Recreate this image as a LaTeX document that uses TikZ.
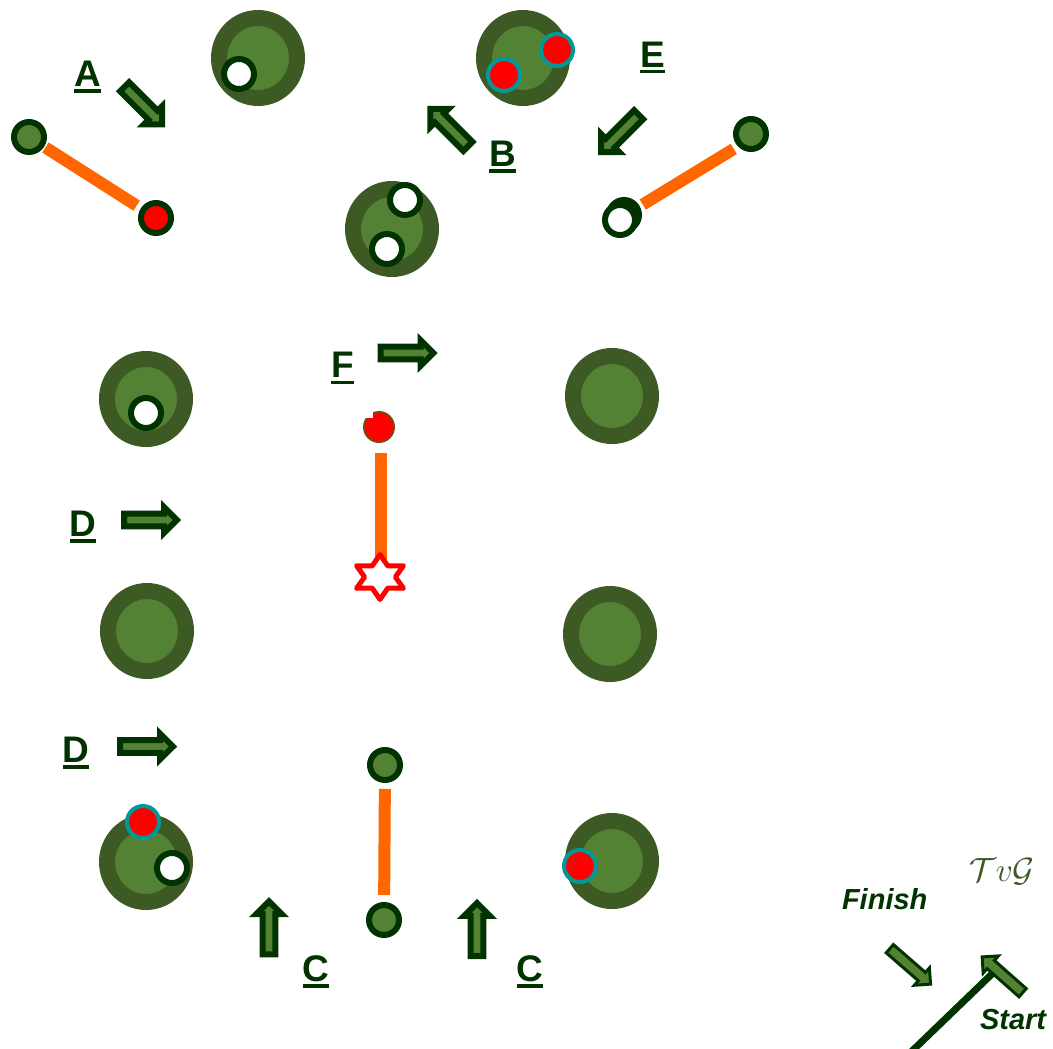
\documentclass[tikz,border=0pt]{standalone}
\usepackage{fontspec}
\setmainfont{Liberation Sans}
\usetikzlibrary{%
  shapes.geometric
 ,shapes.arrows
 ,backgrounds
}
\definecolor{darkgr}{HTML}{003300}
\definecolor{poleout}{HTML}{3D5A24}
\definecolor{polein}{HTML}{548235}
\definecolor{tealring}{HTML}{009999}
\definecolor{orangebar}{HTML}{FF6600}
\definecolor{brownring}{HTML}{7A4A14}
\tikzstyle{dia}=[x=1pt,y=-1pt,every node/.style={inner sep=0pt,outer sep=0pt}]
\tikzstyle{pole}=[ellipse,draw=poleout,fill=polein,line width=16pt,minimum width=78pt,minimum height=80pt]
\tikzstyle{ball}=[circle,draw=darkgr,line width=6pt,minimum size=30pt]
\tikzstyle{gball}=[ball,fill=polein]
\tikzstyle{wball}=[ball,fill=white]
\tikzstyle{rball}=[ball,fill=red]
\tikzstyle{tball}=[ball,draw=tealring,line width=4pt,minimum size=32pt,fill=red]
\tikzstyle{link}=[draw=orangebar,line width=12pt]
\tikzstyle{dir}=[single arrow,draw=darkgr,fill=polein,line width=6pt,anchor=tail,inner ysep=3.4pt,
  minimum height=53pt,minimum width=22.5pt,single arrow head extend=6.4pt]
\tikzstyle{walk}=[dir,line width=3pt,inner ysep=3.9pt,minimum height=54pt,minimum width=23pt,single arrow head extend=6pt]
\tikzstyle{let}=[anchor=base,text=darkgr,font=\bfseries\fontsize{37}{37}\selectfont]
\tikzstyle{word}=[anchor=base west,text=darkgr,font=\bfseries\itshape\fontsize{29}{29}\selectfont]
\newcommand{\ulet}[1]{\vtop{\hbox{#1}\kern3pt\hrule height 3.5pt}}

\begin{document}
\begin{tikzpicture}[dia]
  \useasboundingbox (0,0) rectangle (1053,1049);
% poles
  \node[pole] (p_a) at (258,58)  {};
  \node[pole] (p_b) at (523,58)  {};
  \node[pole] (p_c) at (392,229) {};
  \node[pole] (p_d) at (146,399) {};
  \node[pole] (p_e) at (612,396) {};
  \node[pole] (p_f) at (147,631) {};
  \node[pole] (p_g) at (610,634) {};
  \node[pole] (p_h) at (146,862) {};
  \node[pole] (p_i) at (612,861) {};
% balls
  \node[wball] (w_a) at (239,74)  {};
  \node[tball] (t_a) at (557,50)  {};
  \node[tball] (t_b) at (504,75)  {};
  \node[wball] (w_b) at (405,200) {};
  \node[wball] (w_c) at (387,249) {};
  \node[wball] (w_d) at (146,413) {};
  \node[tball] (t_c) at (143,822) {};
  \node[wball] (w_e) at (172,868) {};
  \node[tball] (t_d) at (580,866) {};
  \node[gball] (g_a) at (29,137)  {};
  \node[rball] (r_a) at (156,218) {};
  \node[gball] (g_b) at (751,134) {};
  \node[ball,fill=darkgr] (k_a) at (624,215) {};
  \node[wball] (w_f) at (620,220) {};
  \node[gball] (g_c) at (385,765) {};
  \node[gball] (g_d) at (384,920) {};
  \node[circle,draw=brownring,fill=red,line width=2pt,minimum size=30pt] (r_b) at (379,427) {};
  \fill[white] (364,410) rectangle (373,418);
  \node[star,star points=6,star point ratio=1.75,draw=red,fill=white,line width=5pt,
    line join=round,minimum size=45pt,xscale=1.2] (s_a) at (380,577) {};
% orange bars
  \begin{scope}[on background layer]
    \path (g_a) edge[link,shorten <=4.5pt,shorten >=8pt] (r_a);
    \path ([shift={(-1,5)}]g_b.center) edge[link,shorten <=19pt,shorten >=22pt] ([shift={(4,-4)}]w_f.center);
    \path ([xshift=2pt]r_b.south) edge[link,shorten <=11pt] ([xshift=1pt]s_a.center);
    \path (g_c) edge[link,shorten <=9pt,shorten >=10pt] (g_d);
  \end{scope}
% arrows
  \node[dir,rotate=-45] (a_a) at (124.6,86.8)  {};
  \node[dir,rotate=135] (a_b) at (467.9,146.4) {};
  \node[dir,rotate=225] (a_e) at (638.7,114.7) {};
  \node[dir]            (a_f) at (380.5,353)   {};
  \node[dir]            (a_d) at (124,520)     {};
  \node[dir]            (a_g) at (120,746.5)   {};
  \node[dir,rotate=90]  (a_c) at (269,954.3)   {};
  \node[dir,rotate=90]  (a_h) at (477,956)     {};
% letters
  \node[let] (l_a) at (87.5,86.5)  {\ulet{A}};
  \node[let] (l_b) at (502.5,166) {\ulet{B}};
  \node[let] (l_e) at (652.5,67) {\ulet{E}};
  \node[let] (l_f) at (342.5,377.5) {\ulet{F}};
  \node[let] (l_d) at (83,536)   {\ulet{D}};
  \node[let] (l_g) at (76,762)   {\ulet{D}};
  \node[let] (l_c) at (316,981)  {\ulet{C}};
  \node[let] (l_h) at (530,981)  {\ulet{C}};
% start and finish
  \coordinate (c_a) at (911,1052);
  \coordinate (c_b) at (993,973);
  \draw[darkgr,line width=7pt] (c_a) -- (c_b);
  \node[walk,rotate=-41]   (a_s) at (889.8,948.7)  {};
  \node[walk,rotate=138.5] (a_t) at (1022.6,992.7) {};
  \node[word] (t_f) at (842,909.5)  {Finish};
  \node[word] (t_s) at (980,1029.5) {Start};
  \node[anchor=base,text=poleout,font=\fontsize{24}{24}\selectfont,scale=1.35] (t_v) at (1002,881)
    {$\mathcal{T}\mathnormal{v}\mathcal{G}$};
\end{tikzpicture}
\end{document}
